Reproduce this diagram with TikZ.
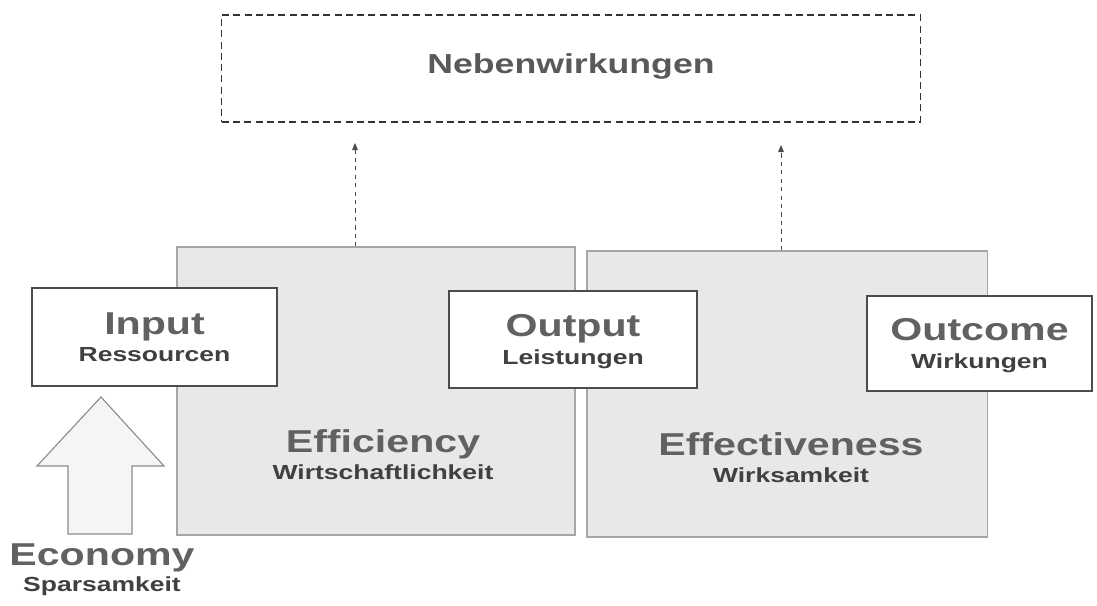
\documentclass[tikz,border=0pt]{standalone}
\usepackage{fontspec}
\setmainfont{Liberation Sans}
\newfontfamily\widesans[FakeStretch=1.3]{Liberation Sans}
\usepackage{tikz}
\usetikzlibrary{arrows.meta}

\newcommand{\headfont}{\widesans\bfseries\fontsize{22.5}{19.5}\selectfont\color{black!62}}
\newcommand{\subfont}{\widesans\bfseries\fontsize{14.5}{19.5}\selectfont\color{black!75}}

\begin{document}
\begin{tikzpicture}[
    x=0.025cm, y=-0.025cm,
    mainbox/.style={draw=black!70, line width=1.1pt, fill=white, inner sep=0pt, align=center, text depth=0pt,
                    font=\fontsize{14.5}{19.5}\selectfont},
    areabox/.style={draw=black!35, line width=0.8pt, fill=black!9, inner sep=0pt},
    areatext/.style={inner sep=0pt, align=center, text depth=0pt, font=\fontsize{14.5}{19.5}\selectfont},
    sidearrow/.style={dashed, draw=black!70, line width=0.6pt, -{Triangle[length=5pt,width=4pt]}}
]
\useasboundingbox (0,0) rectangle (1097,605);

% Side effects
\node[draw=black!80, dashed, dash pattern=on 5pt off 3pt, line width=0.8pt, inner sep=0pt,
      minimum width=17.45cm, minimum height=2.675cm, text depth=7pt,
      font=\widesans\bfseries\fontsize{19.5}{20}\selectfont\color{black!65}] (neben) at (571,68.5) {Nebenwirkungen};

% Efficiency / Effectiveness areas
\node[areabox, minimum width=9.95cm, minimum height=7.2cm] (eff) at (376,391) {};
\node[areabox, minimum width=10cm, minimum height=7.15cm] (effv) at (787,394) {};
\node[areatext] (efftxt) at (383,454.4) {\headfont Efficiency\\\subfont Wirtschaftlichkeit};
\node[areatext] (effvtxt) at (791,457.4) {\headfont Effectiveness\\\subfont Wirksamkeit};

\coordinate (e1) at (355,143);
\coordinate (e2) at (781,145);
\draw[sidearrow] (eff.north -| e1) -- (e1);
\draw[sidearrow] (effv.north -| e2) -- (e2);

% Input, Output, Outcome
\node[mainbox, minimum width=6.125cm, minimum height=2.45cm] (input) at (154.5,337) {\headfont Input\\\subfont Ressourcen};
\node[mainbox, minimum width=6.2cm, minimum height=2.425cm] (output) at (573,339.5) {\headfont Output\\\subfont Leistungen};
\node[mainbox, minimum width=5.625cm, minimum height=2.375cm] (outcome) at (979.5,343.5) {\headfont Outcome\\\subfont Wirkungen};

% Economy
\draw[draw=black!45, line width=0.8pt, fill=black!4]
    (68,534) -- (68,466) -- (37,466) -- (101,397) -- (164,466) -- (132,466) -- (132,534) -- cycle;
\node[areatext] (econ) at (102,568) {\headfont Economy\\[-1pt]\subfont Sparsamkeit};

\end{tikzpicture}
\end{document}
